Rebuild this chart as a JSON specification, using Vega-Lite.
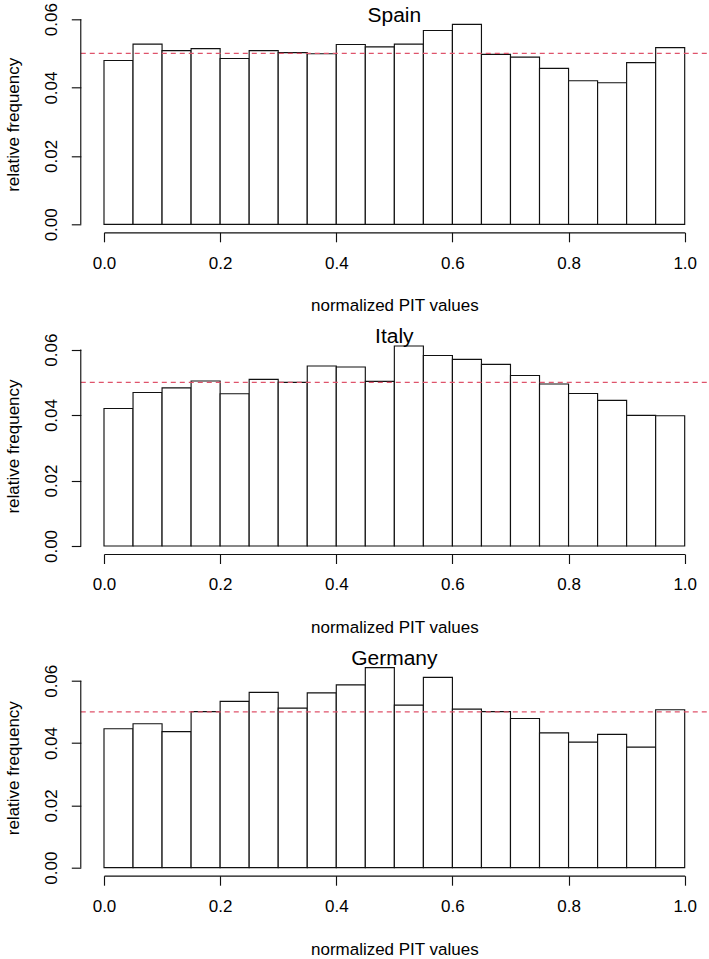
{
  "$schema": "https://vega.github.io/schema/vega-lite/v6.json",
  "autosize": {"type": "none"},
  "padding": {"left": 104, "top": 16.3, "right": 605, "bottom": 942.7},
  "background": "white",
  "data": {"values": [
    {"country": "Spain", "bin_start": 0.00, "bin_end": 0.05, "freq": 0.0479},
    {"country": "Spain", "bin_start": 0.05, "bin_end": 0.10, "freq": 0.0527},
    {"country": "Spain", "bin_start": 0.10, "bin_end": 0.15, "freq": 0.0508},
    {"country": "Spain", "bin_start": 0.15, "bin_end": 0.20, "freq": 0.0514},
    {"country": "Spain", "bin_start": 0.20, "bin_end": 0.25, "freq": 0.0485},
    {"country": "Spain", "bin_start": 0.25, "bin_end": 0.30, "freq": 0.0508},
    {"country": "Spain", "bin_start": 0.30, "bin_end": 0.35, "freq": 0.0502},
    {"country": "Spain", "bin_start": 0.35, "bin_end": 0.40, "freq": 0.0499},
    {"country": "Spain", "bin_start": 0.40, "bin_end": 0.45, "freq": 0.0526},
    {"country": "Spain", "bin_start": 0.45, "bin_end": 0.50, "freq": 0.0519},
    {"country": "Spain", "bin_start": 0.50, "bin_end": 0.55, "freq": 0.0527},
    {"country": "Spain", "bin_start": 0.55, "bin_end": 0.60, "freq": 0.0567},
    {"country": "Spain", "bin_start": 0.60, "bin_end": 0.65, "freq": 0.0585},
    {"country": "Spain", "bin_start": 0.65, "bin_end": 0.70, "freq": 0.0497},
    {"country": "Spain", "bin_start": 0.70, "bin_end": 0.75, "freq": 0.0489},
    {"country": "Spain", "bin_start": 0.75, "bin_end": 0.80, "freq": 0.0456},
    {"country": "Spain", "bin_start": 0.80, "bin_end": 0.85, "freq": 0.0420},
    {"country": "Spain", "bin_start": 0.85, "bin_end": 0.90, "freq": 0.0414},
    {"country": "Spain", "bin_start": 0.90, "bin_end": 0.95, "freq": 0.0473},
    {"country": "Spain", "bin_start": 0.95, "bin_end": 1.00, "freq": 0.0517},
    {"country": "Italy", "bin_start": 0.00, "bin_end": 0.05, "freq": 0.0420},
    {"country": "Italy", "bin_start": 0.05, "bin_end": 0.10, "freq": 0.0469},
    {"country": "Italy", "bin_start": 0.10, "bin_end": 0.15, "freq": 0.0483},
    {"country": "Italy", "bin_start": 0.15, "bin_end": 0.20, "freq": 0.0504},
    {"country": "Italy", "bin_start": 0.20, "bin_end": 0.25, "freq": 0.0465},
    {"country": "Italy", "bin_start": 0.25, "bin_end": 0.30, "freq": 0.0509},
    {"country": "Italy", "bin_start": 0.30, "bin_end": 0.35, "freq": 0.0500},
    {"country": "Italy", "bin_start": 0.35, "bin_end": 0.40, "freq": 0.0550},
    {"country": "Italy", "bin_start": 0.40, "bin_end": 0.45, "freq": 0.0547},
    {"country": "Italy", "bin_start": 0.45, "bin_end": 0.50, "freq": 0.0503},
    {"country": "Italy", "bin_start": 0.50, "bin_end": 0.55, "freq": 0.0611},
    {"country": "Italy", "bin_start": 0.55, "bin_end": 0.60, "freq": 0.0582},
    {"country": "Italy", "bin_start": 0.60, "bin_end": 0.65, "freq": 0.0570},
    {"country": "Italy", "bin_start": 0.65, "bin_end": 0.70, "freq": 0.0555},
    {"country": "Italy", "bin_start": 0.70, "bin_end": 0.75, "freq": 0.0521},
    {"country": "Italy", "bin_start": 0.75, "bin_end": 0.80, "freq": 0.0495},
    {"country": "Italy", "bin_start": 0.80, "bin_end": 0.85, "freq": 0.0466},
    {"country": "Italy", "bin_start": 0.85, "bin_end": 0.90, "freq": 0.0445},
    {"country": "Italy", "bin_start": 0.90, "bin_end": 0.95, "freq": 0.0399},
    {"country": "Italy", "bin_start": 0.95, "bin_end": 1.00, "freq": 0.0398},
    {"country": "Germany", "bin_start": 0.00, "bin_end": 0.05, "freq": 0.0446},
    {"country": "Germany", "bin_start": 0.05, "bin_end": 0.10, "freq": 0.0462},
    {"country": "Germany", "bin_start": 0.10, "bin_end": 0.15, "freq": 0.0437},
    {"country": "Germany", "bin_start": 0.15, "bin_end": 0.20, "freq": 0.0501},
    {"country": "Germany", "bin_start": 0.20, "bin_end": 0.25, "freq": 0.0534},
    {"country": "Germany", "bin_start": 0.25, "bin_end": 0.30, "freq": 0.0563},
    {"country": "Germany", "bin_start": 0.30, "bin_end": 0.35, "freq": 0.0512},
    {"country": "Germany", "bin_start": 0.35, "bin_end": 0.40, "freq": 0.0561},
    {"country": "Germany", "bin_start": 0.40, "bin_end": 0.45, "freq": 0.0587},
    {"country": "Germany", "bin_start": 0.45, "bin_end": 0.50, "freq": 0.0642},
    {"country": "Germany", "bin_start": 0.50, "bin_end": 0.55, "freq": 0.0522},
    {"country": "Germany", "bin_start": 0.55, "bin_end": 0.60, "freq": 0.0611},
    {"country": "Germany", "bin_start": 0.60, "bin_end": 0.65, "freq": 0.0509},
    {"country": "Germany", "bin_start": 0.65, "bin_end": 0.70, "freq": 0.0501},
    {"country": "Germany", "bin_start": 0.70, "bin_end": 0.75, "freq": 0.0479},
    {"country": "Germany", "bin_start": 0.75, "bin_end": 0.80, "freq": 0.0433},
    {"country": "Germany", "bin_start": 0.80, "bin_end": 0.85, "freq": 0.0403},
    {"country": "Germany", "bin_start": 0.85, "bin_end": 0.90, "freq": 0.0428},
    {"country": "Germany", "bin_start": 0.90, "bin_end": 0.95, "freq": 0.0387},
    {"country": "Germany", "bin_start": 0.95, "bin_end": 1.00, "freq": 0.0507}
  ]},
  "spacing": 105.7,
  "bounds": "flush",
  "vconcat": [
    {
      "title": {"text": "Spain", "frame": "group", "anchor": "middle", "offset": -40, "baseline": "alphabetic"},
      "width": 580.7, "height": 216,
      "layer": [
        {
          "transform": [{"filter": "datum.country === 'Spain'"}],
          "mark": {"type": "rect", "fill": "white", "stroke": "#111111", "strokeWidth": 1.15},
          "encoding": {
            "x": {"field": "bin_start", "type": "quantitative", "scale": {"domain": [0, 1], "nice": false, "zero": false},
                  "axis": {"values": [0, 0.2, 0.4, 0.6, 0.8, 1], "format": ".1f", "title": "normalized PIT values", "tickSize": 9.5, "labelPadding": 26.5, "labelBaseline": "alphabetic", "labelFlush": false, "titleY": 78.4, "titleBaseline": "alphabetic"}},
            "x2": {"field": "bin_end"},
            "y": {"field": "freq", "type": "quantitative", "scale": {"domain": [-0.00234, 0.06084], "nice": false, "zero": false},
                  "axis": {"values": [0, 0.01, 0.02, 0.03, 0.04, 0.05, 0.06], "labelExpr": "round(datum.value*100) % 2 == 0 ? format(datum.value, '.2f') : ''", "title": "relative frequency", "domain": false, "offset": 23.2, "tickSize": 9.5, "labelAngle": 270, "labelAlign": "center", "labelBaseline": "alphabetic", "labelPadding": 15, "labelFlush": false, "labelOverlap": false, "titleX": -62.5, "titleY": 108, "titleAngle": 270, "titleAlign": "center", "titleBaseline": "alphabetic"}},
            "y2": {"datum": 0}
          }
        },
        {
          "data": {"values": [{}]},
          "mark": {"type": "rule", "stroke": "#DF536B", "strokeWidth": 1.2, "strokeDash": [5, 4]},
          "encoding": {"x": {"datum": -0.04}, "x2": {"datum": 1.04}, "y": {"datum": 0.05}}
        },
        {
          "data": {"values": [{}]},
          "mark": {"type": "rule", "stroke": "#111111", "strokeWidth": 1.15},
          "encoding": {"x": {"datum": -0.04}, "y": {"datum": 0}, "y2": {"datum": 0.06}}
        }
      ]
    },
    {
      "title": {"text": "Italy", "frame": "group", "anchor": "middle", "offset": -31.3, "baseline": "alphabetic"},
      "width": 580.7, "height": 216,
      "layer": [
        {
          "transform": [{"filter": "datum.country === 'Italy'"}],
          "mark": {"type": "rect", "fill": "white", "stroke": "#111111", "strokeWidth": 1.15},
          "encoding": {
            "x": {"field": "bin_start", "type": "quantitative", "scale": {"domain": [0, 1], "nice": false, "zero": false},
                  "axis": {"values": [0, 0.2, 0.4, 0.6, 0.8, 1], "format": ".1f", "title": "normalized PIT values", "tickSize": 9.5, "labelPadding": 26.5, "labelBaseline": "alphabetic", "labelFlush": false, "titleY": 78.4, "titleBaseline": "alphabetic"}},
            "x2": {"field": "bin_end"},
            "y": {"field": "freq", "type": "quantitative", "scale": {"domain": [-0.002444, 0.063544], "nice": false, "zero": false},
                  "axis": {"values": [0, 0.01, 0.02, 0.03, 0.04, 0.05, 0.06], "labelExpr": "round(datum.value*100) % 2 == 0 ? format(datum.value, '.2f') : ''", "title": "relative frequency", "domain": false, "offset": 23.2, "tickSize": 9.5, "labelAngle": 270, "labelAlign": "center", "labelBaseline": "alphabetic", "labelPadding": 15, "labelFlush": false, "labelOverlap": false, "titleX": -62.5, "titleY": 108, "titleAngle": 270, "titleAlign": "center", "titleBaseline": "alphabetic"}},
            "y2": {"datum": 0}
          }
        },
        {
          "data": {"values": [{}]},
          "mark": {"type": "rule", "stroke": "#DF536B", "strokeWidth": 1.2, "strokeDash": [5, 4]},
          "encoding": {"x": {"datum": -0.04}, "x2": {"datum": 1.04}, "y": {"datum": 0.05}}
        },
        {
          "data": {"values": [{}]},
          "mark": {"type": "rule", "stroke": "#111111", "strokeWidth": 1.15},
          "encoding": {"x": {"datum": -0.04}, "y": {"datum": 0}, "y2": {"datum": 0.06}}
        }
      ]
    },
    {
      "title": {"text": "Germany", "frame": "group", "anchor": "middle", "offset": -26.4, "baseline": "alphabetic"},
      "width": 580.7, "height": 216,
      "layer": [
        {
          "transform": [{"filter": "datum.country === 'Germany'"}],
          "mark": {"type": "rect", "fill": "white", "stroke": "#111111", "strokeWidth": 1.15},
          "encoding": {
            "x": {"field": "bin_start", "type": "quantitative", "scale": {"domain": [0, 1], "nice": false, "zero": false},
                  "axis": {"values": [0, 0.2, 0.4, 0.6, 0.8, 1], "format": ".1f", "title": "normalized PIT values", "tickSize": 9.5, "labelPadding": 26.5, "labelBaseline": "alphabetic", "labelFlush": false, "titleY": 78.4, "titleBaseline": "alphabetic"}},
            "x2": {"field": "bin_end"},
            "y": {"field": "freq", "type": "quantitative", "scale": {"domain": [-0.002568, 0.066768], "nice": false, "zero": false},
                  "axis": {"values": [0, 0.01, 0.02, 0.03, 0.04, 0.05, 0.06], "labelExpr": "round(datum.value*100) % 2 == 0 ? format(datum.value, '.2f') : ''", "title": "relative frequency", "domain": false, "offset": 23.2, "tickSize": 9.5, "labelAngle": 270, "labelAlign": "center", "labelBaseline": "alphabetic", "labelPadding": 15, "labelFlush": false, "labelOverlap": false, "titleX": -62.5, "titleY": 108, "titleAngle": 270, "titleAlign": "center", "titleBaseline": "alphabetic"}},
            "y2": {"datum": 0}
          }
        },
        {
          "data": {"values": [{}]},
          "mark": {"type": "rule", "stroke": "#DF536B", "strokeWidth": 1.2, "strokeDash": [5, 4]},
          "encoding": {"x": {"datum": -0.04}, "x2": {"datum": 1.04}, "y": {"datum": 0.05}}
        },
        {
          "data": {"values": [{}]},
          "mark": {"type": "rule", "stroke": "#111111", "strokeWidth": 1.15},
          "encoding": {"x": {"datum": -0.04}, "y": {"datum": 0}, "y2": {"datum": 0.06}}
        }
      ]
    }
  ],
  "config": {
    "view": {"stroke": null},
    "font": "Liberation Sans",
    "axis": {
      "grid": false,
      "domainColor": "#111111", "domainWidth": 1.15,
      "tickColor": "#111111", "tickWidth": 1.15,
      "labelColor": "black", "labelFont": "Liberation Sans", "labelFontSize": 17,
      "titleColor": "black", "titleFont": "Liberation Sans", "titleFontSize": 17, "titleFontWeight": "normal"
    },
    "title": {"font": "Liberation Sans", "fontSize": 21, "fontWeight": "normal", "color": "black"}
  }
}
